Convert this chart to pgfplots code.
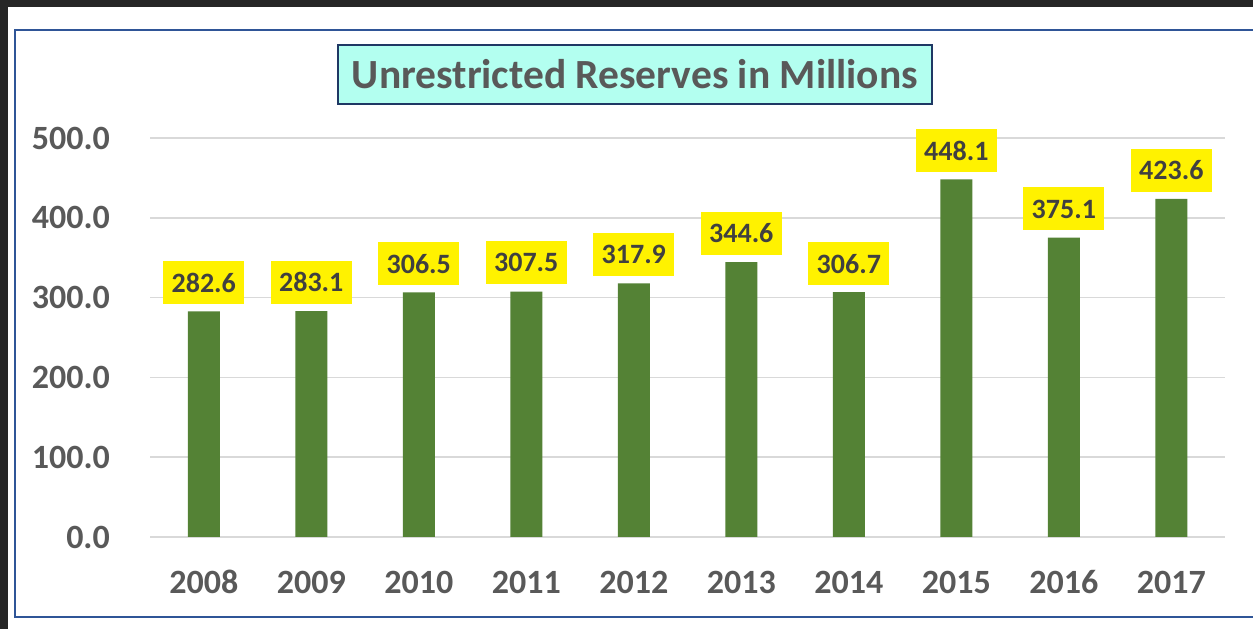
\documentclass[border=0pt]{standalone}
\usepackage{fontspec}
\setmainfont{Carlito}
\usepackage{pgfplots}
\pgfplotsset{compat=1.18}
\definecolor{bg}{HTML}{262626}
\definecolor{barg}{HTML}{548235}
\definecolor{tickc}{HTML}{595959}
\definecolor{labc}{HTML}{404040}
\definecolor{gridc}{HTML}{D9D9D9}
\definecolor{frame}{HTML}{2F5597}
\definecolor{titlefill}{HTML}{B3FFF0}
\definecolor{titleborder}{HTML}{1F3864}
\begin{document}
\begin{tikzpicture}[x=1bp,y=1bp]
\fill[bg] (0,0) rectangle (1253,629);
\fill[white] (8,0) rectangle (1253,622);
\begin{scope}
\clip (0,0) rectangle (1253,629);
\draw[frame, line width=2bp] (15,12) rectangle (1275,599);
\end{scope}
\node[draw=titleborder, line width=2bp, fill=titlefill, minimum width=594bp, minimum height=59bp, inner sep=0pt, text=tickc, font=\fontsize{41.5bp}{43bp}\selectfont\bfseries] at (635,554.5) {Unrestricted Reserves in Millions};
\begin{axis}[
  at={(150bp,92bp)}, anchor=south west,
  scale only axis, width=1075bp, height=399bp,
  xmin=-0.5, xmax=9.5, ymin=0, ymax=500,
  ybar, bar width=32bp,
  axis line style={draw=none},
  tick style={draw=none},
  ymajorgrids, grid style={gridc, line width=1.5bp},
  ytick={0,100,200,300,400,500},
  xtick={0,1,2,3,4,5,6,7,8,9},
  xticklabels={2008,2009,2010,2011,2012,2013,2014,2015,2016,2017},
  xticklabel style={anchor=center, yshift=-41bp, inner sep=0pt, text=tickc, font=\fontsize{34bp}{36bp}\selectfont\bfseries},
  yticklabel style={anchor=east, xshift=-40bp, inner sep=0pt, text=tickc, font=\fontsize{34bp}{36bp}\selectfont\bfseries,
    /pgf/number format/fixed, /pgf/number format/fixed zerofill, /pgf/number format/precision=1, /pgf/number format/assume math mode=true},
  nodes near coords,
  nodes near coords style={anchor=south, yshift=7bp, fill=yellow, inner sep=0pt, minimum width=81bp, minimum height=43bp, text=labc, font=\fontsize{28bp}{30bp}\selectfont\bfseries,
    /pgf/number format/fixed, /pgf/number format/fixed zerofill, /pgf/number format/precision=1, /pgf/number format/assume math mode=true},
  clip=false,
]
\addplot[fill=barg, draw=none] coordinates {
(0,282.6) (1,283.1) (2,306.5) (3,307.5) (4,317.9) (5,344.6) (6,306.7) (7,448.1) (8,375.1) (9,423.6)
};
\end{axis}
\end{tikzpicture}
\end{document}
